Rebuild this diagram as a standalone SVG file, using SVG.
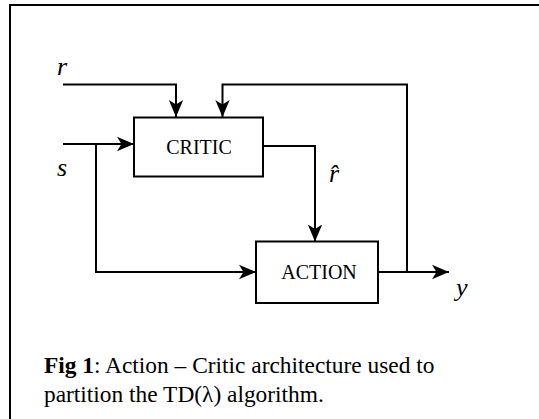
<svg xmlns="http://www.w3.org/2000/svg" width="539" height="419" viewBox="0 0 539 419">
<style>
.ln{fill:none;stroke:#000;stroke-width:2;}
.box{fill:#fff;stroke:#000;stroke-width:2;}
.lbl{font-family:"Liberation Serif","Times New Roman",serif;font-size:20px;fill:#000;}
.var{font-family:"Liberation Serif","Times New Roman",serif;font-size:26px;font-style:italic;fill:#000;}
.cap{font-family:"Liberation Serif","Times New Roman",serif;font-size:23.4px;fill:#000;}
</style>
<defs>
<marker id="ah" markerWidth="20" markerHeight="16" refX="17" refY="8" orient="auto" markerUnits="userSpaceOnUse">
<path d="M0,0.8 L17,8 L0,15.2 L4.5,8 Z" fill="#000"/>
</marker>
</defs>
<rect x="10" y="5" width="600" height="600" fill="none" stroke="#000" stroke-width="2"/>
<g id="connectors">
<path class="ln" d="M63,84.5 H176 V117" marker-end="url(#ah)"/>
<path class="ln" d="M378,272 H407 V84.5 H222.5 V117" marker-end="url(#ah)"/>
<path class="ln" d="M63,144 H134" marker-end="url(#ah)"/>
<path class="ln" d="M96,144 V272 H256" marker-end="url(#ah)"/>
<path class="ln" d="M263,146 H315 V241.5" marker-end="url(#ah)"/>
<path class="ln" d="M378,272 H449" marker-end="url(#ah)"/>
</g>
<g id="critic">
<rect class="box" x="134" y="117.5" width="129" height="59"/>
<text class="lbl" x="199" y="153.5" text-anchor="middle">CRITIC</text>
</g>
<g id="action">
<rect class="box" x="256" y="241.5" width="122" height="61.5"/>
<text class="lbl" x="319" y="279" text-anchor="middle">ACTION</text>
</g>
<g id="labels">
<text class="var" x="57" y="75">r</text>
<text class="var" x="57" y="176">s</text>
<text class="var" x="329" y="182">r̂</text>
<text class="var" x="456" y="296">y</text>
</g>
<g id="caption">
<text class="cap" x="44" y="372.5"><tspan font-weight="bold">Fig 1</tspan>: Action – Critic architecture used to</text>
<text class="cap" x="44" y="401.5">partition the TD(λ) algorithm.</text>
</g>
</svg>
